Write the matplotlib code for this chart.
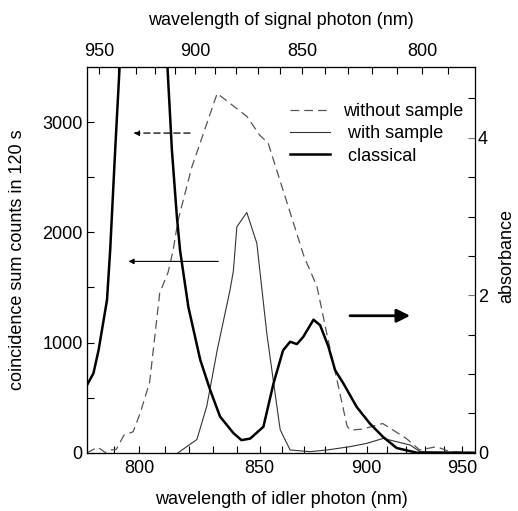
import numpy as np
import matplotlib
matplotlib.use('Agg')
import matplotlib.pyplot as plt
from matplotlib.ticker import FixedLocator, NullFormatter
from matplotlib.lines import Line2D

plt.rcParams['font.family'] = ['Liberation Sans', 'DejaVu Sans']
plt.rcParams['font.size'] = 13

PUMP = 429.7  # pump wavelength, nm

# coincidence counts without sample
wl_nosample = [780, 784, 787, 789, 791, 794, 797.5, 800.3, 804, 808, 811.4, 813.4,
               815.4, 821, 831.6, 844.4, 850, 853.7, 870, 876, 881, 890.4, 892, 898,
               908, 920, 927, 936, 943, 957]
cnt_nosample = [0, 50, 0, 25, 30, 160, 190, 360, 640, 1450, 1640, 1840,
                2110, 2590, 3260, 3050, 2880, 2810, 1780, 1510, 1050, 240, 205, 215,
                265, 130, 25, 55, 10, 0]

# coincidence counts with sample
wl_sample = [815.4, 823.1, 827.2, 831.6, 837.1, 838.5, 840, 844.3, 848.7, 853.1,
             856.8, 859.1, 863.6, 872.8, 880.7, 891.8, 900, 908.2, 915.1, 922,
             927.2, 957]
cnt_sample = [0, 120, 420, 930, 1480, 1650, 2050, 2180, 1900, 1085,
              540, 210, 25, 10, 25, 55, 85, 130, 100, 70,
              10, 0]

# classical absorbance spectrum
wl_classical = [780, 782.4, 784.3, 787.5, 788.7, 790.6, 792.3, 795, 800, 805, 811.1,
                812.9, 814.9, 816.2, 819.6, 824.5, 828.6, 832.8, 838.5, 842, 845.8,
                851.6, 856.1, 860.4, 863.6, 866.7, 869.6, 874.4, 877.5, 881.4, 884.6,
                888.6, 895.1, 901.6, 908.2, 915.1, 925.6, 957]
abs_classical = [0.86, 1.01, 1.30, 1.94, 2.57, 3.84, 4.9, 6.2, 7.0, 6.2, 4.9,
                 3.84, 3.0, 2.57, 1.85, 1.18, 0.80, 0.46, 0.25, 0.16, 0.18,
                 0.33, 0.88, 1.30, 1.41, 1.38, 1.47, 1.69, 1.62, 1.35, 1.05,
                 0.88, 0.58, 0.37, 0.20, 0.06, 0.0, 0.0]

idler_lim = (780, 957)
idler_major = [800, 850, 900, 950]
idler_minor = list(range(790, 960, 10))
signal_major = [950, 900, 850, 800]
signal_minor = list(range(790, 960, 10))


def freq(x):
    # axis is linear in optical frequency
    with np.errstate(divide='ignore', invalid='ignore'):
        return -1e4 / np.asarray(x, dtype=float)


def other_photon(x):
    x = np.asarray(x, dtype=float)
    return 1.0 / (1.0 / PUMP - 1.0 / x)


fig = plt.figure(figsize=(5.18, 5.11), dpi=100)
ax = fig.add_axes([0.168, 0.114, 0.749, 0.755])
ax.set_xscale('function', functions=(freq, freq))
ax.set_xlim(*idler_lim)
ax.set_ylim(0, 3500)

ax.plot(wl_nosample, cnt_nosample, color='#555555', lw=0.9, dashes=(7, 4))
ax.plot(wl_sample, cnt_sample, color='#333333', lw=0.8)

ax2 = ax.twinx()
ax2.set_ylim(0, 4.9)
ax2.plot(wl_classical, abs_classical, color='black', lw=1.8)

# top axis: signal photon wavelength
axt = ax.twiny()
axt.set_xscale('function', functions=(freq, freq))
axt.set_xlim(float(other_photon(idler_lim[0])), float(other_photon(idler_lim[1])))

ax.xaxis.set_major_locator(FixedLocator(idler_major))
ax.xaxis.set_minor_locator(FixedLocator(idler_minor))
ax.xaxis.set_minor_formatter(NullFormatter())
axt.xaxis.set_major_locator(FixedLocator(signal_major))
axt.xaxis.set_minor_locator(FixedLocator(signal_minor))
axt.xaxis.set_minor_formatter(NullFormatter())
ax.yaxis.set_major_locator(FixedLocator([0, 1000, 2000, 3000]))
ax.yaxis.set_minor_locator(FixedLocator(np.arange(500, 3500, 1000)))
ax2.yaxis.set_major_locator(FixedLocator([0, 2, 4]))
ax2.yaxis.set_minor_locator(FixedLocator([0.5, 1, 1.5, 2.5, 3, 3.5, 4.5]))

for a in (ax, ax2, axt):
    a.tick_params(which='both', direction='in', length=5, width=0.8, labelsize=13)
ax.tick_params(axis='x', which='both', top=False, pad=5)
ax.tick_params(axis='y', pad=3)
axt.tick_params(axis='x', pad=5)
ax2.tick_params(axis='y', colors='#777777', labelcolor='black', pad=2)
ax2.spines['right'].set_color('#777777')

ax.set_xlabel('wavelength of idler photon (nm)', fontsize=13)
ax.xaxis.set_label_coords(0.5, -0.10)
axt.set_xlabel('wavelength of signal photon (nm)', fontsize=13)
axt.xaxis.set_label_coords(0.5, 1.109)
ax.set_ylabel('coincidence sum counts in 120 s', fontsize=13)
ax.yaxis.set_label_coords(-0.158, 0.5)
ax2.set_ylabel('absorbance', fontsize=13)
ax2.yaxis.set_label_coords(1.06, 0.51)

# arrows pointing to the axis each curve belongs to
ax.annotate('', xy=(797.7, 2900), xytext=(820.3, 2900),
            arrowprops=dict(arrowstyle='-|>', color='black', lw=0.9,
                            linestyle=(0, (5, 3)), mutation_scale=8,
                            shrinkA=0, shrinkB=0))
ax.annotate('', xy=(795.7, 1736), xytext=(832.1, 1736),
            arrowprops=dict(arrowstyle='-|>', color='black', lw=0.8,
                            mutation_scale=8, shrinkA=0, shrinkB=0))
ax2.annotate('', xy=(922, 1.74), xytext=(891.8, 1.74),
             arrowprops=dict(arrowstyle='-|>', color='black', lw=2,
                             mutation_scale=20, shrinkA=0, shrinkB=0))

handles = [Line2D([], [], color='#555555', lw=0.9, dashes=(7, 4)),
           Line2D([], [], color='#333333', lw=0.8),
           Line2D([], [], color='black', lw=1.8)]
labels = ['without sample', ' with sample', ' classical']
axt.legend(handles, labels, loc='upper left', bbox_to_anchor=(0.523, 0.907),
           frameon=False, fontsize=13, handlelength=2.2, handletextpad=0.72,
           labelspacing=0.3, borderpad=0, borderaxespad=0)

fig.savefig('out.png', dpi=100)
